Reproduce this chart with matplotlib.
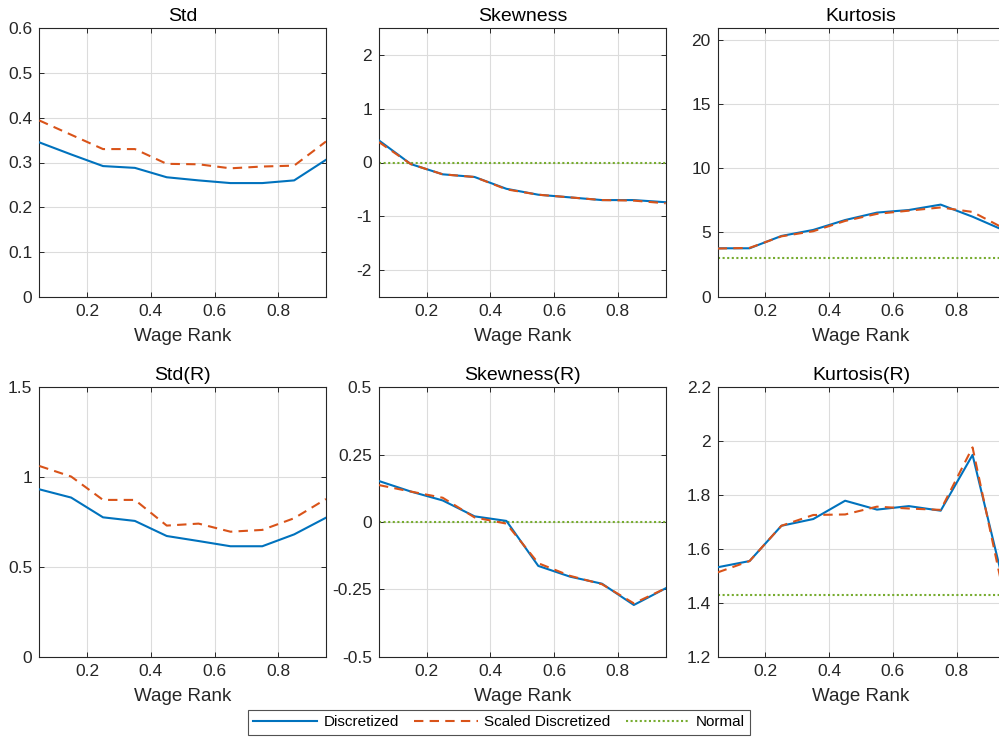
#!/usr/bin/env python3

import numpy as np
import matplotlib
matplotlib.use('Agg')
from matplotlib import pyplot as plt
from matplotlib.lines import Line2D
from matplotlib.ticker import FuncFormatter
# --

plt.rcParams['font.family'] = ['Liberation Sans', 'DejaVu Sans']

wage_rank = [0.05, 0.15, 0.25, 0.35, 0.45, 0.55, 0.65, 0.75, 0.85, 0.95]

std_disc = [0.345, 0.318, 0.292, 0.288, 0.267, 0.260, 0.254, 0.254, 0.260, 0.306]
std_scaled = [0.394, 0.362, 0.330, 0.330, 0.297, 0.296, 0.287, 0.291, 0.293, 0.347]

skew_disc = [0.41, -0.03, -0.22, -0.27, -0.49, -0.60, -0.65, -0.70, -0.70, -0.74]
skew_scaled = [0.38, -0.03, -0.22, -0.27, -0.50, -0.60, -0.65, -0.70, -0.71, -0.76]

kurt_disc = [3.77, 3.77, 4.73, 5.20, 5.97, 6.55, 6.75, 7.17, 6.23, 5.15]
kurt_scaled = [3.75, 3.80, 4.70, 5.10, 5.90, 6.45, 6.70, 6.95, 6.60, 5.30]

stdR_disc = [0.932, 0.886, 0.776, 0.756, 0.672, 0.644, 0.615, 0.615, 0.681, 0.774]
stdR_scaled = [1.062, 1.003, 0.873, 0.873, 0.730, 0.741, 0.696, 0.706, 0.771, 0.878]

skewR_disc = [0.152, 0.113, 0.080, 0.021, 0.004, -0.163, -0.203, -0.229, -0.308, -0.246]
skewR_scaled = [0.137, 0.113, 0.090, 0.017, -0.006, -0.153, -0.200, -0.231, -0.302, -0.246]

kurtR_disc = [1.532, 1.555, 1.686, 1.711, 1.779, 1.746, 1.759, 1.742, 1.949, 1.46]
kurtR_scaled = [1.513, 1.555, 1.686, 1.726, 1.728, 1.757, 1.750, 1.745, 1.977, 1.42]

# normal benchmark (None = no line)
panels = [
  ('Std', std_disc, std_scaled, None, (0, 0.6), np.arange(0, 0.61, 0.1)),
  ('Skewness', skew_disc, skew_scaled, 0.0, (-2.5, 2.5), [-2, -1, 0, 1, 2]),
  ('Kurtosis', kurt_disc, kurt_scaled, 3.0, (0, 20.9), [0, 5, 10, 15, 20]),
  ('Std(R)', stdR_disc, stdR_scaled, None, (0, 1.5), [0, 0.5, 1, 1.5]),
  ('Skewness(R)', skewR_disc, skewR_scaled, 0.0, (-0.5, 0.5), [-0.5, -0.25, 0, 0.25, 0.5]),
  ('Kurtosis(R)', kurtR_disc, kurtR_scaled, 1.43, (1.2, 2.2), [1.2, 1.4, 1.6, 1.8, 2.0, 2.2]),
]

c_disc = '#0072BD'
c_scaled = '#D95319'
c_norm = '#77AC30'
c_axis = '#262626'

W, H = 999, 738
lefts = [39.3, 379.0, 717.7]
tops = [28.3, 387.3]
aw = 286.7
ahs = [268.4, 269.4]

fig = plt.figure(figsize=(W/100, H/100), dpi=100)
fmt = FuncFormatter(lambda v, p: '{:g}'.format(round(v, 4)))

for i, (title, yd, ys, ynorm, ylim, yticks) in enumerate(panels):
  r, c = divmod(i, 3)
  ax = fig.add_axes([lefts[c]/W, 1 - (tops[r] + ahs[r])/H, aw/W, ahs[r]/H])
  ax.plot(wage_rank, yd, color=c_disc, lw=1.5, zorder=3)
  ax.plot(wage_rank, ys, color=c_scaled, lw=1.5, dashes=(4.5, 3), zorder=4)
  if ynorm is not None:
    ax.axhline(ynorm, color=c_norm, lw=1.5, dashes=(1, 1.2), zorder=2)
  ax.set_xlim(0.05, 0.95)
  ax.set_ylim(*ylim)
  ax.set_xticks([0.2, 0.4, 0.6, 0.8])
  ax.set_yticks(yticks)
  ax.xaxis.set_major_formatter(fmt)
  ax.yaxis.set_major_formatter(fmt)
  ax.grid(True, color='#dcdcdc', lw=0.8)
  ax.set_axisbelow(True)
  ax.tick_params(direction='in', length=3.5, width=0.7, colors=c_axis,
                 labelsize=12.5, top=True, right=True, pad=5)
  for s in ax.spines.values():
    s.set_color(c_axis)
    s.set_linewidth(0.8)
  ax.set_title(title, fontsize=14, color='black', pad=5)
  ax.set_xlabel('Wage Rank', fontsize=13.5, color=c_axis, labelpad=7)

handles = [Line2D([], [], color=c_disc, lw=1.5),
           Line2D([], [], color=c_scaled, lw=1.5, dashes=(4.5, 3)),
           Line2D([], [], color=c_norm, lw=1.5, dashes=(1, 1.2))]
leg = fig.legend(handles, ['Discretized', 'Scaled Discretized', 'Normal'],
                 loc='center', bbox_to_anchor=(499/W, 1 - 722.5/H), ncol=3,
                 fontsize=11, frameon=True, fancybox=False, handlelength=4.2,
                 columnspacing=1.0, handletextpad=0.4, borderpad=0.35,
                 borderaxespad=0)
leg.get_frame().set_edgecolor(c_axis)
leg.get_frame().set_linewidth(0.8)

plt.savefig('out.png', dpi=100)
plt.close('all')
